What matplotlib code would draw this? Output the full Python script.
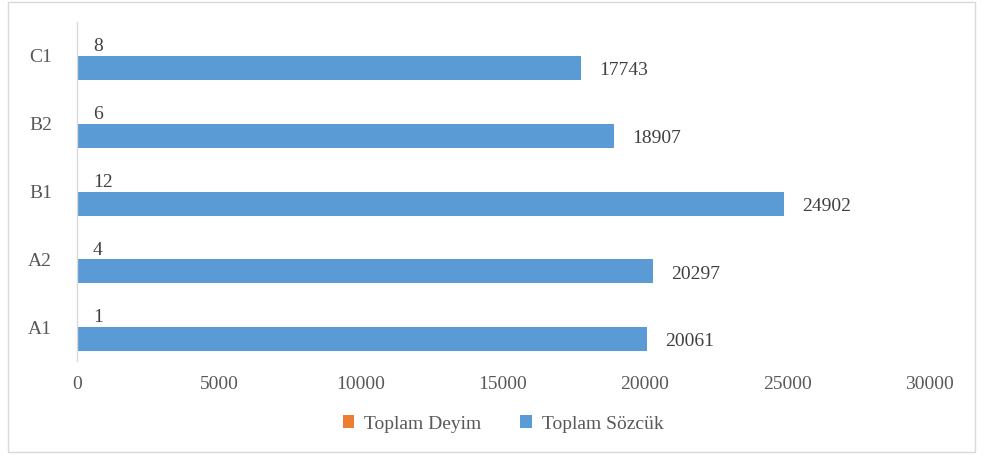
import matplotlib
matplotlib.use("Agg")
import matplotlib.pyplot as plt
import numpy as np
from matplotlib.patches import Rectangle

categories = ["A1", "A2", "B1", "B2", "C1"]
deyim = [1, 4, 12, 6, 8]
sozcuk = [20061, 20297, 24902, 18907, 17743]
xticks = [0, 5000, 10000, 15000, 20000, 25000, 30000]

plt.rcParams['font.family'] = ['Liberation Serif', 'DejaVu Serif']

fig = plt.figure(figsize=(9.85, 4.57), dpi=100)
W, H = 985, 457
ax = fig.add_axes([77 / W, (H - 361) / H, (929 - 77) / W, (361 - 22) / H])

y = np.arange(len(categories))
h = 0.355
c_or = "#ED7D31"
c_bl = "#5B9BD5"
fs = 14
b1 = ax.barh(y + h / 2, deyim, height=h, color=c_or, label="Toplam Deyim")
b2 = ax.barh(y - h / 2, sozcuk, height=h, color=c_bl, label="Toplam Sözcük")

for yi, v in zip(y, deyim):
    ax.annotate(str(v), (v, yi + h / 2), xytext=(11.5, -2), textcoords="offset points",
                va="center", ha="left", fontsize=fs, color="#404040")
for yi, v in zip(y, sozcuk):
    ax.annotate(str(v), (v, yi - h / 2), xytext=(13, -2), textcoords="offset points",
                va="center", ha="left", fontsize=fs, color="#404040")

ax.set_xlim(0, 30000)
ax.set_ylim(-0.5, 4.5)
ax.set_xticks(xticks)
ax.set_xticklabels([str(t) for t in xticks])
ax.set_yticks(y)
ax.set_yticklabels(categories)
ax.tick_params(axis='both', length=0, labelsize=fs, colors="#595959")
ax.tick_params(axis='x', pad=11)
ax.tick_params(axis='y', pad=18)
for s in ["top", "right", "bottom"]:
    ax.spines[s].set_visible(False)
ax.spines["left"].set_color("#D9D9D9")
ax.spines["left"].set_linewidth(1.0)

leg = fig.legend(handles=[b1, b2], labels=["Toplam Deyim", "Toplam Sözcük"],
                 loc="center", bbox_to_anchor=(503 / W, (H - 424) / H), ncol=2,
                 frameon=False, fontsize=fs, handlelength=0.6, handleheight=0.6,
                 handletextpad=0.5, columnspacing=2.0)
for t in leg.get_texts():
    t.set_color("#595959")

fig.patches.append(Rectangle((8 / W, (H - 452) / H), (975 - 8) / W, (452 - 2) / H,
                             transform=fig.transFigure, fill=False,
                             edgecolor="#D9D9D9", linewidth=1.0))

fig.savefig("out.png", dpi=100, facecolor="white")
